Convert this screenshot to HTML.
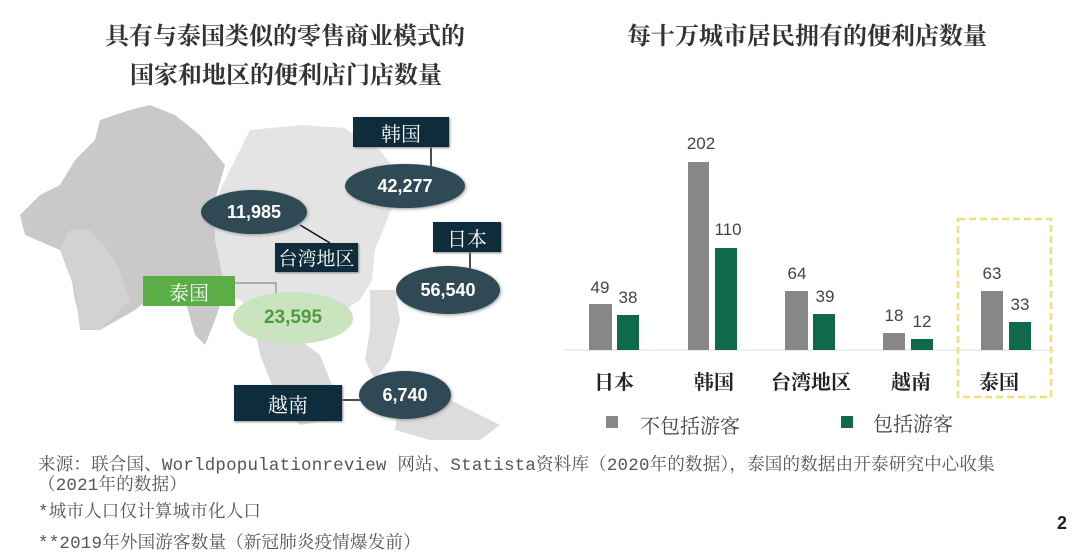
<!DOCTYPE html>
<html><head><meta charset="utf-8"><style>
body{margin:0;width:1079px;height:557px;background:#fff;position:relative;overflow:hidden;font-family:"Liberation Sans","Noto Sans CJK SC",sans-serif}
.t{position:absolute;white-space:nowrap}
.title{font-family:"Liberation Serif","Noto Serif CJK SC",serif;font-size:24px;color:#333;font-weight:bold}
.box{position:absolute;background:#0e2c3c;color:#fff;font-family:"Liberation Serif","Noto Serif CJK SC",serif;font-size:20px;display:flex;align-items:center;justify-content:center;box-shadow:1px 1px 2px #888}
.ell{position:absolute;border-radius:50%;background:#2f4a55;color:#fff;font-weight:bold;font-size:18px;display:flex;align-items:center;justify-content:center;box-shadow:1px 1px 3px #999}
.foot{font-family:"Liberation Mono","Noto Serif CJK SC",serif;font-size:17.5px;color:#555;letter-spacing:0.2px}
.v{position:absolute;font-size:17px;color:#444;width:40px;text-align:center}
.cat{position:absolute;font-family:"Liberation Serif","Noto Serif CJK SC",serif;font-weight:bold;font-size:20px;color:#222;text-align:center;width:100px}
</style></head><body>
<svg width="560" height="450" style="position:absolute;left:0;top:0">
<polygon points="250,130 300,125 345,128 360,140 380,150 395,170 395,200 385,225 375,250 372,280 360,300 330,320 300,330 270,320 240,300 215,290 215,250 210,220 220,190 235,160" fill="#e4e4e4"/>
<polygon points="100,120 130,110 150,105 175,115 200,135 225,165 215,200 215,240 225,290 215,320 205,345 195,335 185,300 160,290 135,310 100,330 80,320 75,300 70,270 60,250 25,235 20,215 40,195 60,185 75,160 95,140" fill="#c9c9c9"/>
<polygon points="70,230 90,230 115,260 130,300 100,330 80,330 75,290 60,250" fill="#d2d2d2"/>
<polygon points="255,330 275,330 300,340 320,355 330,380 340,400 330,420 300,425 280,405 270,380 260,355" fill="#dadada"/>
<polygon points="370,290 395,290 400,320 390,360 375,380 365,360 370,330" fill="#dedede"/>
<polygon points="400,400 440,395 470,410 500,425 480,440 430,440 395,430" fill="#dcdcdc"/>
<line x1="431" y1="147" x2="431" y2="186" stroke="#111" stroke-width="1.5"/>
<line x1="300" y1="225" x2="330" y2="243" stroke="#111" stroke-width="1.5"/>
<line x1="470" y1="252" x2="470" y2="290" stroke="#111" stroke-width="1.5"/>
<polyline points="235,283 276,283 276,330" fill="none" stroke="#777" stroke-width="1"/>
<line x1="342" y1="400" x2="380" y2="400" stroke="#111" stroke-width="1.5"/>
</svg>
<div class="t title" style="left:105px;top:16px">具有与泰国类似的零售商业模式的</div>
<div class="t title" style="left:130px;top:55px">国家和地区的便利店门店数量</div>
<div class="t title" style="left:627px;top:16px">每十万城市居民拥有的便利店数量</div>
<div class="ell" style="left:345px;top:164px;width:120px;height:44px">42,277</div>
<div class="box" style="left:353px;top:117px;width:96px;height:30px">韩国</div>
<div class="ell" style="left:201px;top:190px;width:106px;height:44px">11,985</div>
<div class="box" style="left:275px;top:243px;width:83px;height:29px;font-size:19px">台湾地区</div>
<div class="ell" style="left:396px;top:266px;width:104px;height:48px">56,540</div>
<div class="box" style="left:433px;top:222px;width:68px;height:30px">日本</div>
<div class="ell" style="left:233px;top:292px;width:120px;height:52px;background:#cbe4c0;color:#4f9c3e;box-shadow:none;font-size:19px">23,595</div>
<div class="box" style="left:143px;top:276px;width:92px;height:30px;background:#5aae45;box-shadow:none">泰国</div>
<div class="ell" style="left:359px;top:371px;width:92px;height:48px">6,740</div>
<div class="box" style="left:234px;top:385px;width:108px;height:36px">越南</div>

<svg width="1079" height="557" style="position:absolute;left:0;top:0">
<line x1="565" y1="350" x2="1055" y2="350" stroke="#ddd" stroke-width="1"/>
<rect x="589" y="304" width="23" height="46" fill="#878787"/><rect x="617" y="315" width="22" height="35" fill="#0f6a4c"/>
<rect x="688" y="162" width="21" height="188" fill="#878787"/><rect x="715" y="248" width="22" height="102" fill="#0f6a4c"/>
<rect x="785" y="291" width="23" height="59" fill="#878787"/><rect x="813" y="314" width="22" height="36" fill="#0f6a4c"/>
<rect x="883" y="333" width="22" height="17" fill="#878787"/><rect x="911" y="339" width="22" height="11" fill="#0f6a4c"/>
<rect x="981" y="291" width="22" height="59" fill="#878787"/><rect x="1009" y="322" width="22" height="28" fill="#0f6a4c"/>
<rect x="958" y="219" width="93" height="178" fill="none" stroke="#f0df7a" stroke-width="2.5" stroke-dasharray="7,4"/>
<rect x="606" y="416" width="12" height="12" fill="#878787"/>
<rect x="841" y="416" width="12" height="12" fill="#0f6a4c"/>
</svg>
<div class="v" style="left:580px;top:278px">49</div><div class="v" style="left:608px;top:288px">38</div>
<div class="v" style="left:681px;top:134px">202</div><div class="v" style="left:708px;top:220px">110</div>
<div class="v" style="left:777px;top:264px">64</div><div class="v" style="left:805px;top:287px">39</div>
<div class="v" style="left:874px;top:306px">18</div><div class="v" style="left:902px;top:312px">12</div>
<div class="v" style="left:972px;top:264px">63</div><div class="v" style="left:1000px;top:295px">33</div>
<div class="cat" style="left:564px;top:366px">日本</div>
<div class="cat" style="left:664px;top:366px">韩国</div>
<div class="cat" style="left:761px;top:366px">台湾地区</div>
<div class="cat" style="left:861px;top:366px">越南</div>
<div class="cat" style="left:949px;top:366px">泰国</div>
<div class="t" style="left:640px;top:410px;font-size:20px;color:#444;font-family:'Liberation Serif','Noto Serif CJK SC',serif">不包括游客</div>
<div class="t" style="left:873px;top:408px;font-size:20px;color:#444;font-family:'Liberation Serif','Noto Serif CJK SC',serif">包括游客</div>

<div class="t foot" style="left:38px;top:451px">来源：联合国、Worldpopulationreview 网站、Statista资料库（2020年的数据），泰国的数据由开泰研究中心收集</div>
<div class="t foot" style="left:38px;top:471px">（2021年的数据）</div>
<div class="t foot" style="left:38px;top:498px">*城市人口仅计算城市化人口</div>
<div class="t foot" style="left:38px;top:529px">**2019年外国游客数量（新冠肺炎疫情爆发前）</div>
<div class="t" style="left:1057px;top:513px;font-weight:bold;font-size:18px;color:#222">2</div>
</body></html>
